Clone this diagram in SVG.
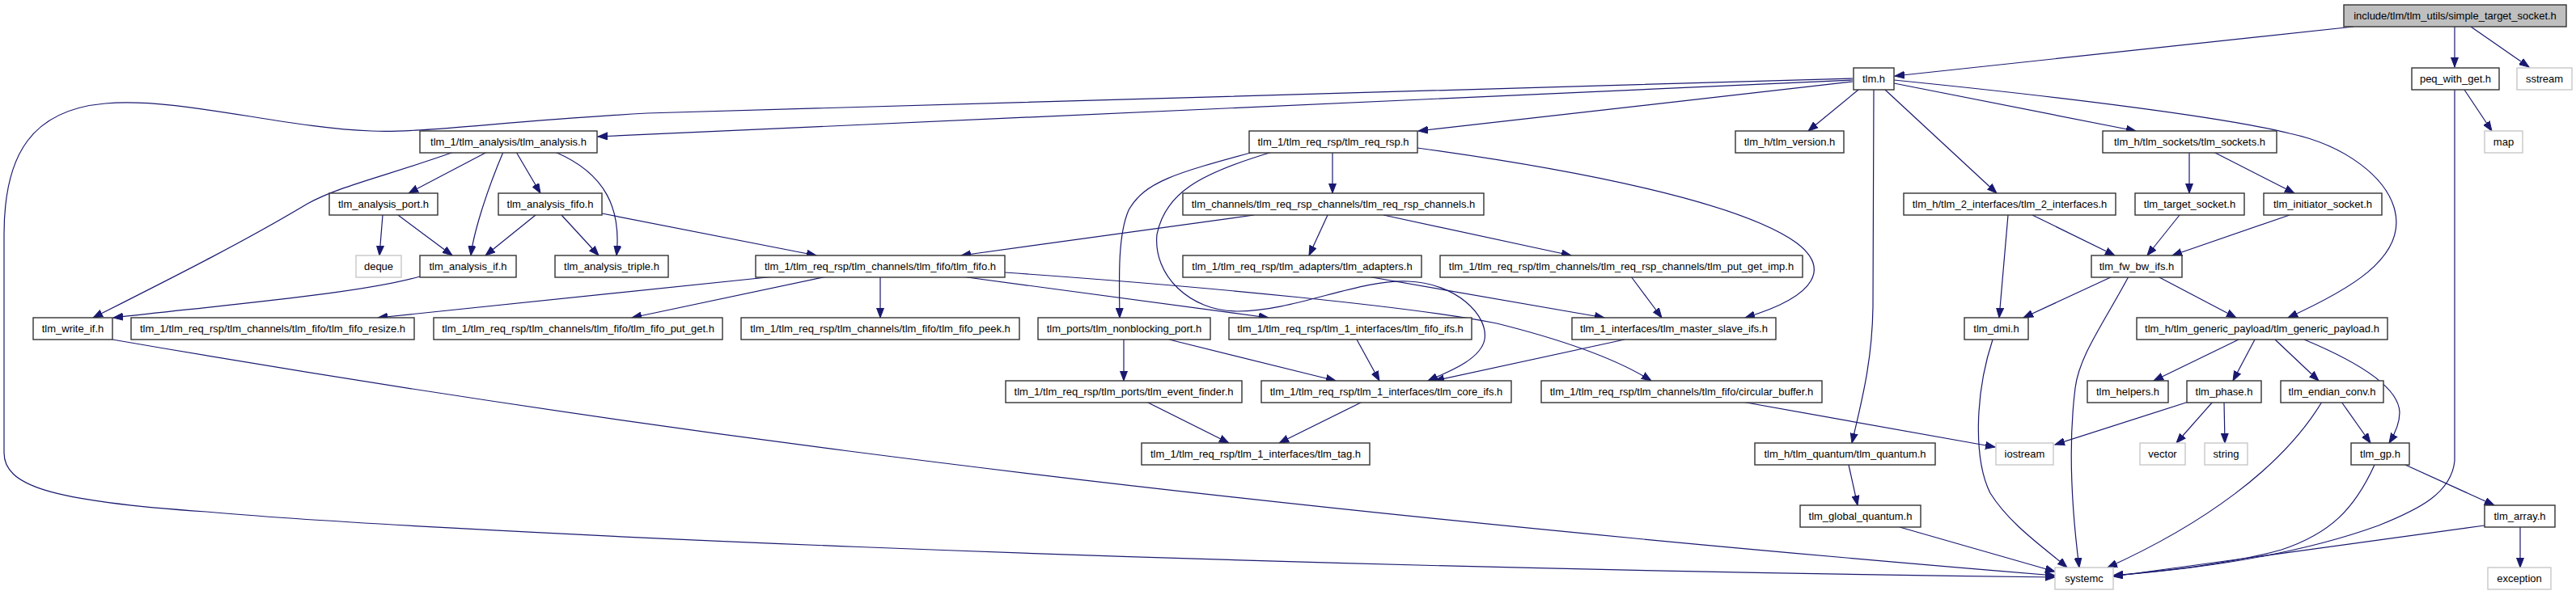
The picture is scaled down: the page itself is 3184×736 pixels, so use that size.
<svg xmlns="http://www.w3.org/2000/svg" width="3184" height="736" viewBox="0 0 3184 736">
<defs>
<marker id="ah" markerUnits="userSpaceOnUse" markerWidth="14" markerHeight="10" refX="12" refY="5" orient="auto">
<path d="M0,0.5 L12,5 L0,9.5 Z" fill="#191970" stroke="#191970" stroke-width="1"/>
</marker>
<style>
rect{fill:#fff;stroke:#333;stroke-width:1.4}
.g rect{stroke:#c8c8c8}
.r rect{fill:#bfbfbf}
text{font-family:"Liberation Sans",Arial,sans-serif;font-size:13px;text-anchor:middle;fill:#000}
#edges path{fill:none;stroke:#191970;stroke-width:1.2;marker-end:url(#ah)}
</style>
</defs>
<rect x="0" y="0" width="3184" height="736" style="fill:#fff;stroke:none"/>
<g id="edges">
<path d="M2909,33 L2342,94"/>
<path d="M3034,33 L3034,83"/>
<path d="M3054,33 L3126,83"/>
<path d="M2290,97 L800,140 C620,150 520,165 459,162 C350,158 220,120 130,128 C40,136 5,190 5,290 L5,560 C5,600 60,620 255,633 C500,655 1400,700 2540,714"/>
<path d="M2290,99 L739,169"/>
<path d="M2290,101 L1753,162"/>
<path d="M2297,111 L2235,162"/>
<path d="M2316,111 L2315,380 C2314,450 2300,500 2289,548"/>
<path d="M2330,111 L2468,239"/>
<path d="M2341,103 L2640,162"/>
<path d="M2341,99 C2550,120 2750,145 2830,165 C2900,180 2950,220 2960,260 C2975,320 2900,360 2828,393"/>
<path d="M561,188 C470,220 420,230 380,252 C300,300 210,345 115,393"/>
<path d="M602,188 L505,239"/>
<path d="M622,188 C600,240 585,290 582,316"/>
<path d="M638,188 L668,239"/>
<path d="M686,188 C750,215 768,260 762,316"/>
<path d="M473,266 L469,316"/>
<path d="M492,266 L559,316"/>
<path d="M662,266 L600,316"/>
<path d="M694,266 L740,316"/>
<path d="M744,264 L1009,316"/>
<path d="M519,342 C450,362 300,375 140,393"/>
<path d="M1553,187 C1450,215 1415,225 1395,260 C1382,290 1383,340 1384,393"/>
<path d="M1576,187 C1480,215 1440,240 1430,290 C1425,340 1470,385 1530,385 C1600,385 1680,345 1740,348 C1800,350 1840,390 1835,420 C1830,445 1790,460 1765,471"/>
<path d="M1647,188 L1647,239"/>
<path d="M1752,183 C1950,210 2150,250 2220,300 C2260,330 2250,365 2157,393"/>
<path d="M1550,266 L1188,316"/>
<path d="M1641,266 L1618,316"/>
<path d="M1710,266 L1942,316"/>
<path d="M958,342 L467,393"/>
<path d="M1022,342 L781,393"/>
<path d="M1088,342 L1088,393"/>
<path d="M1188,342 L1568,393"/>
<path d="M1242,337 C1500,355 1750,380 1850,400 C1930,420 2000,445 2041,471"/>
<path d="M1690,342 L1983,393"/>
<path d="M2016,342 L2054,393"/>
<path d="M1389,420 L1389,471"/>
<path d="M1445,420 L1651,471"/>
<path d="M1677,420 L1705,471"/>
<path d="M2008,420 L1773,471"/>
<path d="M1417,497 L1519,548"/>
<path d="M1684,497 L1581,548"/>
<path d="M2153,497 L2466,553"/>
<path d="M2285,575 L2296,625"/>
<path d="M2348,652 L2540,707"/>
<path d="M139,420 C600,500 1300,610 2540,712"/>
<path d="M2482,266 L2471,393"/>
<path d="M2512,266 L2614,316"/>
<path d="M2706,189 L2706,239"/>
<path d="M2736,188 L2836,239"/>
<path d="M2694,266 L2654,316"/>
<path d="M2830,266 L2685,316"/>
<path d="M2611,342 L2501,393"/>
<path d="M2631,342 C2600,400 2570,440 2565,480 C2555,560 2562,640 2570,702"/>
<path d="M2667,342 L2764,393"/>
<path d="M2463,420 C2440,490 2440,570 2460,610 C2485,650 2530,680 2555,702"/>
<path d="M3046,111 L3080,162"/>
<path d="M3034,111 L3034,570 C3030,610 2990,630 2940,650 C2830,690 2700,705 2612,712"/>
<path d="M2767,420 L2662,471"/>
<path d="M2787,420 L2760,471"/>
<path d="M2812,420 L2866,471"/>
<path d="M2848,420 C2920,450 2965,480 2966,510 C2966,525 2958,540 2953,548"/>
<path d="M2705,497 L2540,550"/>
<path d="M2735,497 L2690,548"/>
<path d="M2749,497 L2750,548"/>
<path d="M2870,497 C2820,580 2720,650 2605,702"/>
<path d="M2894,497 L2930,548"/>
<path d="M2935,575 C2910,630 2880,660 2820,680 C2750,700 2650,708 2612,712"/>
<path d="M2973,575 L3083,625"/>
<path d="M3071,650 L2612,713"/>
<path d="M3115,652 L3115,702"/>
</g>
<g id="n_root" class="r"><rect x="2897" y="6" width="275" height="27"/><text x="3034.5" y="24">include/tlm/tlm_utils/simple_target_socket.h</text></g>
<g id="n_tlm"><rect x="2291" y="84" width="50" height="27"/><text x="2316" y="102">tlm.h</text></g>
<g id="n_peq"><rect x="2981" y="84" width="108" height="27"/><text x="3035" y="102">peq_with_get.h</text></g>
<g id="n_sstream" class="g"><rect x="3111" y="84" width="68" height="27"/><text x="3145" y="102">sstream</text></g>
<g id="n_analysis"><rect x="519" y="162" width="219" height="27"/><text x="628.5" y="180">tlm_1/tlm_analysis/tlm_analysis.h</text></g>
<g id="n_req_rsp"><rect x="1544" y="162" width="208" height="27"/><text x="1648" y="180">tlm_1/tlm_req_rsp/tlm_req_rsp.h</text></g>
<g id="n_version"><rect x="2145" y="162" width="134" height="27"/><text x="2212" y="180">tlm_h/tlm_version.h</text></g>
<g id="n_sockets"><rect x="2599" y="162" width="215" height="27"/><text x="2706.5" y="180">tlm_h/tlm_sockets/tlm_sockets.h</text></g>
<g id="n_map" class="g"><rect x="3071" y="162" width="47" height="27"/><text x="3094.5" y="180">map</text></g>
<g id="n_analysis_port"><rect x="407" y="239" width="134" height="27"/><text x="474" y="257">tlm_analysis_port.h</text></g>
<g id="n_analysis_fifo"><rect x="616" y="239" width="128" height="27"/><text x="680" y="257">tlm_analysis_fifo.h</text></g>
<g id="n_req_rsp_channels"><rect x="1462" y="239" width="372" height="27"/><text x="1648" y="257">tlm_channels/tlm_req_rsp_channels/tlm_req_rsp_channels.h</text></g>
<g id="n_2_interfaces"><rect x="2353" y="239" width="262" height="27"/><text x="2484" y="257">tlm_h/tlm_2_interfaces/tlm_2_interfaces.h</text></g>
<g id="n_target_socket"><rect x="2639" y="239" width="135" height="27"/><text x="2706.5" y="257">tlm_target_socket.h</text></g>
<g id="n_initiator_socket"><rect x="2798" y="239" width="146" height="27"/><text x="2871" y="257">tlm_initiator_socket.h</text></g>
<g id="n_deque" class="g"><rect x="440" y="316" width="56" height="27"/><text x="468" y="334">deque</text></g>
<g id="n_analysis_if"><rect x="519" y="316" width="119" height="27"/><text x="578.5" y="334">tlm_analysis_if.h</text></g>
<g id="n_analysis_triple"><rect x="686" y="316" width="140" height="27"/><text x="756" y="334">tlm_analysis_triple.h</text></g>
<g id="n_tlm_fifo"><rect x="934" y="316" width="308" height="27"/><text x="1088" y="334">tlm_1/tlm_req_rsp/tlm_channels/tlm_fifo/tlm_fifo.h</text></g>
<g id="n_adapters"><rect x="1462" y="316" width="295" height="27"/><text x="1609.5" y="334">tlm_1/tlm_req_rsp/tlm_adapters/tlm_adapters.h</text></g>
<g id="n_put_get_imp"><rect x="1780" y="316" width="448" height="27"/><text x="2004" y="334">tlm_1/tlm_req_rsp/tlm_channels/tlm_req_rsp_channels/tlm_put_get_imp.h</text></g>
<g id="n_fw_bw_ifs"><rect x="2585" y="316" width="112" height="27"/><text x="2641" y="334">tlm_fw_bw_ifs.h</text></g>
<g id="n_write_if"><rect x="41" y="393" width="98" height="27"/><text x="90" y="411">tlm_write_if.h</text></g>
<g id="n_fifo_resize"><rect x="162" y="393" width="350" height="27"/><text x="337" y="411">tlm_1/tlm_req_rsp/tlm_channels/tlm_fifo/tlm_fifo_resize.h</text></g>
<g id="n_fifo_put_get"><rect x="536" y="393" width="357" height="27"/><text x="714.5" y="411">tlm_1/tlm_req_rsp/tlm_channels/tlm_fifo/tlm_fifo_put_get.h</text></g>
<g id="n_fifo_peek"><rect x="916" y="393" width="344" height="27"/><text x="1088" y="411">tlm_1/tlm_req_rsp/tlm_channels/tlm_fifo/tlm_fifo_peek.h</text></g>
<g id="n_nonblocking_port"><rect x="1283" y="393" width="213" height="27"/><text x="1389.5" y="411">tlm_ports/tlm_nonblocking_port.h</text></g>
<g id="n_fifo_ifs"><rect x="1519" y="393" width="300" height="27"/><text x="1669" y="411">tlm_1/tlm_req_rsp/tlm_1_interfaces/tlm_fifo_ifs.h</text></g>
<g id="n_master_slave_ifs"><rect x="1943" y="393" width="252" height="27"/><text x="2069" y="411">tlm_1_interfaces/tlm_master_slave_ifs.h</text></g>
<g id="n_dmi"><rect x="2428" y="393" width="79" height="27"/><text x="2467.5" y="411">tlm_dmi.h</text></g>
<g id="n_generic_payload"><rect x="2641" y="393" width="310" height="27"/><text x="2796" y="411">tlm_h/tlm_generic_payload/tlm_generic_payload.h</text></g>
<g id="n_event_finder"><rect x="1243" y="471" width="292" height="27"/><text x="1389" y="489">tlm_1/tlm_req_rsp/tlm_ports/tlm_event_finder.h</text></g>
<g id="n_core_ifs"><rect x="1559" y="471" width="309" height="27"/><text x="1713.5" y="489">tlm_1/tlm_req_rsp/tlm_1_interfaces/tlm_core_ifs.h</text></g>
<g id="n_circular_buffer"><rect x="1905" y="471" width="347" height="27"/><text x="2078.5" y="489">tlm_1/tlm_req_rsp/tlm_channels/tlm_fifo/circular_buffer.h</text></g>
<g id="n_helpers"><rect x="2580" y="471" width="100" height="27"/><text x="2630" y="489">tlm_helpers.h</text></g>
<g id="n_phase"><rect x="2703" y="471" width="92" height="27"/><text x="2749" y="489">tlm_phase.h</text></g>
<g id="n_endian_conv"><rect x="2819" y="471" width="127" height="27"/><text x="2882.5" y="489">tlm_endian_conv.h</text></g>
<g id="n_tag"><rect x="1411" y="548" width="282" height="27"/><text x="1552" y="566">tlm_1/tlm_req_rsp/tlm_1_interfaces/tlm_tag.h</text></g>
<g id="n_quantum"><rect x="2169" y="548" width="223" height="27"/><text x="2280.5" y="566">tlm_h/tlm_quantum/tlm_quantum.h</text></g>
<g id="n_iostream" class="g"><rect x="2467" y="548" width="71" height="27"/><text x="2502.5" y="566">iostream</text></g>
<g id="n_vector" class="g"><rect x="2645" y="548" width="56" height="27"/><text x="2673" y="566">vector</text></g>
<g id="n_string" class="g"><rect x="2725" y="548" width="53" height="27"/><text x="2751.5" y="566">string</text></g>
<g id="n_gp"><rect x="2906" y="548" width="72" height="27"/><text x="2942" y="566">tlm_gp.h</text></g>
<g id="n_global_quantum"><rect x="2225" y="625" width="149" height="27"/><text x="2299.5" y="643">tlm_global_quantum.h</text></g>
<g id="n_array"><rect x="3071" y="625" width="87" height="27"/><text x="3114.5" y="643">tlm_array.h</text></g>
<g id="n_systemc" class="g"><rect x="2540" y="702" width="72" height="27"/><text x="2576" y="720">systemc</text></g>
<g id="n_exception" class="g"><rect x="3075" y="702" width="78" height="27"/><text x="3114" y="720">exception</text></g>
</svg>
